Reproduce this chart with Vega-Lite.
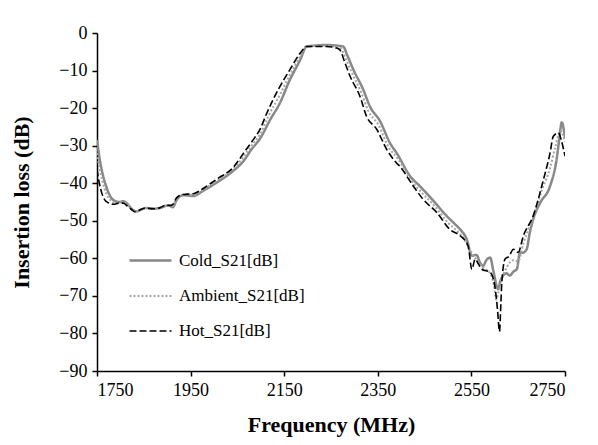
{
  "$schema": "https://vega.github.io/schema/vega-lite/v6.json",
  "width": 468,
  "height": 338,
  "autosize": {"type": "none"},
  "padding": {"left": 97, "top": 33, "right": 33, "bottom": 74},
  "background": "white",
  "config": {
    "view": {"stroke": null},
    "font": "Liberation Serif"
  },
  "data": {"values": [
    {"s":"Cold_S21[dB]","f":1750,"v":-28.5},{"s":"Cold_S21[dB]","f":1755,"v":-33},{"s":"Cold_S21[dB]","f":1763,"v":-38},{"s":"Cold_S21[dB]","f":1770,"v":-41},{"s":"Cold_S21[dB]","f":1778,"v":-43.4},{"s":"Cold_S21[dB]","f":1788,"v":-44.7},{"s":"Cold_S21[dB]","f":1798,"v":-45},{"s":"Cold_S21[dB]","f":1806,"v":-44.8},{"s":"Cold_S21[dB]","f":1815,"v":-45.5},{"s":"Cold_S21[dB]","f":1825,"v":-47},{"s":"Cold_S21[dB]","f":1835,"v":-47.5},{"s":"Cold_S21[dB]","f":1845,"v":-47},{"s":"Cold_S21[dB]","f":1855,"v":-46.6},{"s":"Cold_S21[dB]","f":1870,"v":-46.8},{"s":"Cold_S21[dB]","f":1885,"v":-46.6},{"s":"Cold_S21[dB]","f":1899,"v":-46},{"s":"Cold_S21[dB]","f":1905,"v":-46},{"s":"Cold_S21[dB]","f":1912,"v":-46.4},{"s":"Cold_S21[dB]","f":1920,"v":-44.5},{"s":"Cold_S21[dB]","f":1934,"v":-43.2},{"s":"Cold_S21[dB]","f":1956,"v":-43.4},{"s":"Cold_S21[dB]","f":1977,"v":-42},{"s":"Cold_S21[dB]","f":2006,"v":-39.8},{"s":"Cold_S21[dB]","f":2041,"v":-36.7},{"s":"Cold_S21[dB]","f":2063,"v":-34.1},{"s":"Cold_S21[dB]","f":2080,"v":-31},{"s":"Cold_S21[dB]","f":2098,"v":-28.2},{"s":"Cold_S21[dB]","f":2120,"v":-23.1},{"s":"Cold_S21[dB]","f":2141,"v":-18.6},{"s":"Cold_S21[dB]","f":2162,"v":-12.5},{"s":"Cold_S21[dB]","f":2184,"v":-7.2},{"s":"Cold_S21[dB]","f":2198,"v":-3.6},{"s":"Cold_S21[dB]","f":2241,"v":-3.2},{"s":"Cold_S21[dB]","f":2265,"v":-3.4},{"s":"Cold_S21[dB]","f":2276,"v":-3.6},{"s":"Cold_S21[dB]","f":2285,"v":-6},{"s":"Cold_S21[dB]","f":2298,"v":-9.8},{"s":"Cold_S21[dB]","f":2319,"v":-15.1},{"s":"Cold_S21[dB]","f":2333,"v":-19.5},{"s":"Cold_S21[dB]","f":2355,"v":-23.5},{"s":"Cold_S21[dB]","f":2376,"v":-29.3},{"s":"Cold_S21[dB]","f":2390,"v":-31.9},{"s":"Cold_S21[dB]","f":2419,"v":-38.1},{"s":"Cold_S21[dB]","f":2440,"v":-40.8},{"s":"Cold_S21[dB]","f":2469,"v":-44.7},{"s":"Cold_S21[dB]","f":2497,"v":-48.7},{"s":"Cold_S21[dB]","f":2515,"v":-50.9},{"s":"Cold_S21[dB]","f":2526,"v":-52.3},{"s":"Cold_S21[dB]","f":2540,"v":-54.9},{"s":"Cold_S21[dB]","f":2551,"v":-59.3},{"s":"Cold_S21[dB]","f":2561,"v":-59.1},{"s":"Cold_S21[dB]","f":2568,"v":-61},{"s":"Cold_S21[dB]","f":2575,"v":-62},{"s":"Cold_S21[dB]","f":2582,"v":-60.5},{"s":"Cold_S21[dB]","f":2590,"v":-59.8},{"s":"Cold_S21[dB]","f":2598,"v":-64},{"s":"Cold_S21[dB]","f":2607,"v":-68.2},{"s":"Cold_S21[dB]","f":2612,"v":-66},{"s":"Cold_S21[dB]","f":2618,"v":-64.6},{"s":"Cold_S21[dB]","f":2625,"v":-64},{"s":"Cold_S21[dB]","f":2632,"v":-64.6},{"s":"Cold_S21[dB]","f":2640,"v":-63.5},{"s":"Cold_S21[dB]","f":2647,"v":-62.9},{"s":"Cold_S21[dB]","f":2654,"v":-58.4},{"s":"Cold_S21[dB]","f":2660,"v":-58.5},{"s":"Cold_S21[dB]","f":2668,"v":-57.6},{"s":"Cold_S21[dB]","f":2675,"v":-53},{"s":"Cold_S21[dB]","f":2682,"v":-49.6},{"s":"Cold_S21[dB]","f":2697,"v":-45.2},{"s":"Cold_S21[dB]","f":2718,"v":-40.8},{"s":"Cold_S21[dB]","f":2732,"v":-33.7},{"s":"Cold_S21[dB]","f":2738,"v":-28},{"s":"Cold_S21[dB]","f":2743,"v":-23.8},{"s":"Cold_S21[dB]","f":2750,"v":-28},
    {"s":"Ambient_S21[dB]","f":1750,"v":-32},{"s":"Ambient_S21[dB]","f":1757,"v":-37},{"s":"Ambient_S21[dB]","f":1765,"v":-41},{"s":"Ambient_S21[dB]","f":1775,"v":-44},{"s":"Ambient_S21[dB]","f":1790,"v":-45.2},{"s":"Ambient_S21[dB]","f":1806,"v":-45},{"s":"Ambient_S21[dB]","f":1820,"v":-46.2},{"s":"Ambient_S21[dB]","f":1833,"v":-47.5},{"s":"Ambient_S21[dB]","f":1853,"v":-46.6},{"s":"Ambient_S21[dB]","f":1885,"v":-46.6},{"s":"Ambient_S21[dB]","f":1899,"v":-46},{"s":"Ambient_S21[dB]","f":1910,"v":-46.2},{"s":"Ambient_S21[dB]","f":1920,"v":-44.2},{"s":"Ambient_S21[dB]","f":1934,"v":-43.1},{"s":"Ambient_S21[dB]","f":1956,"v":-43.1},{"s":"Ambient_S21[dB]","f":1977,"v":-41.7},{"s":"Ambient_S21[dB]","f":2006,"v":-39.3},{"s":"Ambient_S21[dB]","f":2041,"v":-36.2},{"s":"Ambient_S21[dB]","f":2064,"v":-32.8},{"s":"Ambient_S21[dB]","f":2082,"v":-29.7},{"s":"Ambient_S21[dB]","f":2098,"v":-27},{"s":"Ambient_S21[dB]","f":2116,"v":-22.2},{"s":"Ambient_S21[dB]","f":2141,"v":-16.4},{"s":"Ambient_S21[dB]","f":2162,"v":-11.2},{"s":"Ambient_S21[dB]","f":2184,"v":-6.3},{"s":"Ambient_S21[dB]","f":2198,"v":-3.6},{"s":"Ambient_S21[dB]","f":2240,"v":-3.4},{"s":"Ambient_S21[dB]","f":2270,"v":-4},{"s":"Ambient_S21[dB]","f":2282,"v":-7},{"s":"Ambient_S21[dB]","f":2295,"v":-10.7},{"s":"Ambient_S21[dB]","f":2315,"v":-16},{"s":"Ambient_S21[dB]","f":2330,"v":-20.8},{"s":"Ambient_S21[dB]","f":2352,"v":-24.6},{"s":"Ambient_S21[dB]","f":2372,"v":-30.2},{"s":"Ambient_S21[dB]","f":2393,"v":-33.5},{"s":"Ambient_S21[dB]","f":2422,"v":-39.4},{"s":"Ambient_S21[dB]","f":2444,"v":-42.5},{"s":"Ambient_S21[dB]","f":2472,"v":-46.2},{"s":"Ambient_S21[dB]","f":2500,"v":-50.5},{"s":"Ambient_S21[dB]","f":2520,"v":-52.8},{"s":"Ambient_S21[dB]","f":2535,"v":-55},{"s":"Ambient_S21[dB]","f":2548,"v":-58},{"s":"Ambient_S21[dB]","f":2556,"v":-59.5},{"s":"Ambient_S21[dB]","f":2565,"v":-61},{"s":"Ambient_S21[dB]","f":2575,"v":-62.5},{"s":"Ambient_S21[dB]","f":2590,"v":-64},{"s":"Ambient_S21[dB]","f":2598,"v":-67},{"s":"Ambient_S21[dB]","f":2603,"v":-71},{"s":"Ambient_S21[dB]","f":2608,"v":-69},{"s":"Ambient_S21[dB]","f":2615,"v":-65.5},{"s":"Ambient_S21[dB]","f":2625,"v":-62.5},{"s":"Ambient_S21[dB]","f":2640,"v":-60.5},{"s":"Ambient_S21[dB]","f":2650,"v":-60.8},{"s":"Ambient_S21[dB]","f":2661,"v":-56},{"s":"Ambient_S21[dB]","f":2682,"v":-49},{"s":"Ambient_S21[dB]","f":2700,"v":-42},{"s":"Ambient_S21[dB]","f":2718,"v":-36},{"s":"Ambient_S21[dB]","f":2730,"v":-30},{"s":"Ambient_S21[dB]","f":2740,"v":-26},{"s":"Ambient_S21[dB]","f":2750,"v":-29},
    {"s":"Hot_S21[dB]","f":1750,"v":-36.3},{"s":"Hot_S21[dB]","f":1755,"v":-40},{"s":"Hot_S21[dB]","f":1760,"v":-42.5},{"s":"Hot_S21[dB]","f":1767,"v":-44.5},{"s":"Hot_S21[dB]","f":1774,"v":-45.2},{"s":"Hot_S21[dB]","f":1785,"v":-45.6},{"s":"Hot_S21[dB]","f":1797,"v":-45.3},{"s":"Hot_S21[dB]","f":1806,"v":-45.3},{"s":"Hot_S21[dB]","f":1814,"v":-46},{"s":"Hot_S21[dB]","f":1822,"v":-46.8},{"s":"Hot_S21[dB]","f":1831,"v":-47.6},{"s":"Hot_S21[dB]","f":1840,"v":-47.2},{"s":"Hot_S21[dB]","f":1853,"v":-46.6},{"s":"Hot_S21[dB]","f":1870,"v":-46.8},{"s":"Hot_S21[dB]","f":1885,"v":-46.5},{"s":"Hot_S21[dB]","f":1898,"v":-45.8},{"s":"Hot_S21[dB]","f":1906,"v":-45.9},{"s":"Hot_S21[dB]","f":1912,"v":-45.6},{"s":"Hot_S21[dB]","f":1920,"v":-43.9},{"s":"Hot_S21[dB]","f":1934,"v":-43},{"s":"Hot_S21[dB]","f":1956,"v":-42.8},{"s":"Hot_S21[dB]","f":1977,"v":-41.4},{"s":"Hot_S21[dB]","f":2006,"v":-38.9},{"s":"Hot_S21[dB]","f":2041,"v":-35.8},{"s":"Hot_S21[dB]","f":2066,"v":-31.5},{"s":"Hot_S21[dB]","f":2084,"v":-28.4},{"s":"Hot_S21[dB]","f":2098,"v":-25.7},{"s":"Hot_S21[dB]","f":2113,"v":-21.3},{"s":"Hot_S21[dB]","f":2141,"v":-14.2},{"s":"Hot_S21[dB]","f":2162,"v":-9.8},{"s":"Hot_S21[dB]","f":2184,"v":-5.4},{"s":"Hot_S21[dB]","f":2198,"v":-3.6},{"s":"Hot_S21[dB]","f":2240,"v":-3.6},{"s":"Hot_S21[dB]","f":2262,"v":-4},{"s":"Hot_S21[dB]","f":2269,"v":-4.5},{"s":"Hot_S21[dB]","f":2280,"v":-8},{"s":"Hot_S21[dB]","f":2291,"v":-11.6},{"s":"Hot_S21[dB]","f":2312,"v":-16.9},{"s":"Hot_S21[dB]","f":2326,"v":-22.2},{"s":"Hot_S21[dB]","f":2348,"v":-25.7},{"s":"Hot_S21[dB]","f":2369,"v":-31},{"s":"Hot_S21[dB]","f":2390,"v":-34.6},{"s":"Hot_S21[dB]","f":2397,"v":-35.5},{"s":"Hot_S21[dB]","f":2426,"v":-40.8},{"s":"Hot_S21[dB]","f":2447,"v":-44.3},{"s":"Hot_S21[dB]","f":2476,"v":-47.8},{"s":"Hot_S21[dB]","f":2504,"v":-52.3},{"s":"Hot_S21[dB]","f":2526,"v":-54},{"s":"Hot_S21[dB]","f":2543,"v":-56.7},{"s":"Hot_S21[dB]","f":2551,"v":-62.9},{"s":"Hot_S21[dB]","f":2558,"v":-60.2},{"s":"Hot_S21[dB]","f":2565,"v":-61.5},{"s":"Hot_S21[dB]","f":2572,"v":-62.9},{"s":"Hot_S21[dB]","f":2590,"v":-63.7},{"s":"Hot_S21[dB]","f":2600,"v":-67.3},{"s":"Hot_S21[dB]","f":2606,"v":-74},{"s":"Hot_S21[dB]","f":2610,"v":-79.5},{"s":"Hot_S21[dB]","f":2613,"v":-72},{"s":"Hot_S21[dB]","f":2615,"v":-66.4},{"s":"Hot_S21[dB]","f":2622,"v":-60.2},{"s":"Hot_S21[dB]","f":2630,"v":-59.5},{"s":"Hot_S21[dB]","f":2640,"v":-57.6},{"s":"Hot_S21[dB]","f":2650,"v":-58.4},{"s":"Hot_S21[dB]","f":2661,"v":-54},{"s":"Hot_S21[dB]","f":2682,"v":-48.7},{"s":"Hot_S21[dB]","f":2704,"v":-39},{"s":"Hot_S21[dB]","f":2718,"v":-32},{"s":"Hot_S21[dB]","f":2725,"v":-27.5},{"s":"Hot_S21[dB]","f":2736,"v":-26.6},{"s":"Hot_S21[dB]","f":2742,"v":-28.5},{"s":"Hot_S21[dB]","f":2750,"v":-32.8}
  ]},
  "mark": {"type": "line", "interpolate": "monotone", "clip": true},
  "encoding": {
    "x": {
      "field": "f", "type": "quantitative",
      "scale": {"domain": [1750, 2750], "nice": false, "zero": false},
      "axis": {
        "values": [1750, 1950, 2150, 2350, 2550, 2750],
        "format": "d",
        "title": "Frequency (MHz)",
        "titleFont": "Liberation Serif", "titleFontSize": 22, "titleFontWeight": "bold", "titleColor": "black", "titlePadding": 15,
        "labelFont": "Liberation Serif", "labelFontSize": 18, "labelColor": "black", "labelPadding": 5,
        "domainColor": "black", "domainWidth": 1.5, "tickColor": "black", "tickSize": 5, "tickWidth": 1.5,
        "grid": false
      }
    },
    "y": {
      "field": "v", "type": "quantitative",
      "scale": {"domain": [-90, 0], "nice": false, "zero": false},
      "axis": {
        "values": [-90, -80, -70, -60, -50, -40, -30, -20, -10, 0],
        "format": "d",
        "title": "Insertion loss (dB)",
        "titleFont": "Liberation Serif", "titleFontSize": 22, "titleFontWeight": "bold", "titleColor": "black", "titlePadding": 25,
        "labelFont": "Liberation Serif", "labelFontSize": 18, "labelColor": "black", "labelPadding": 5,
        "domainColor": "black", "domainWidth": 1.5, "tickColor": "black", "tickSize": 5, "tickWidth": 1.5,
        "grid": false
      }
    },
    "color": {
      "field": "s", "type": "nominal",
      "scale": {"domain": ["Cold_S21[dB]", "Ambient_S21[dB]", "Hot_S21[dB]"], "range": ["#888888", "#a6a6a6", "#000000"]},
      "legend": {
        "title": null, "orient": "none", "legendX": 31, "legendY": 205,
        "symbolType": "stroke", "symbolSize": 1764, "symbolStrokeWidth": 2.5,
        "labelFont": "Liberation Serif", "labelFontSize": 17, "labelColor": "black", "labelOffset": 6,
        "rowPadding": 4.5
      }
    },
    "strokeDash": {
      "field": "s", "type": "nominal",
      "scale": {"domain": ["Cold_S21[dB]", "Ambient_S21[dB]", "Hot_S21[dB]"], "range": [[1, 0], [2, 2], [7, 3]]},
      "legend": {
        "title": null, "orient": "none", "legendX": 31, "legendY": 205,
        "symbolType": "stroke", "symbolSize": 1764, "symbolStrokeWidth": 2.5,
        "labelFont": "Liberation Serif", "labelFontSize": 17, "labelColor": "black", "labelOffset": 6,
        "rowPadding": 4.5
      }
    },
    "strokeWidth": {
      "field": "s", "type": "nominal",
      "scale": {"domain": ["Cold_S21[dB]", "Ambient_S21[dB]", "Hot_S21[dB]"], "range": [2.5, 1.6, 2.6]},
      "legend": null
    }
  }
}
